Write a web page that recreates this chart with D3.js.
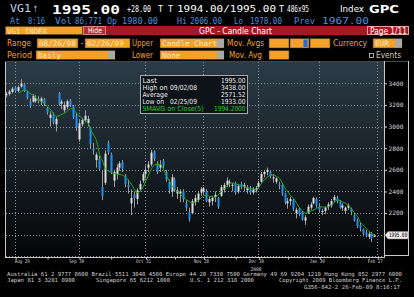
<!DOCTYPE html>
<html>
<head>
<meta charset="utf-8">
<script src="https://cdn.jsdelivr.net/npm/d3@7"></script>
<style>
  html, body { margin: 0; padding: 0; background: #000; overflow: hidden; }
  svg { display: block; }
</style>
</head>
<body>
<script>
// VG1 index future, daily candles 08/26/08 - 02/26/09
const dates = [
  "08/26/08","08/27/08","08/28/08","08/29/08",
  "09/01/08","09/02/08","09/03/08","09/04/08","09/05/08","09/08/08","09/09/08","09/10/08","09/11/08","09/12/08",
  "09/15/08","09/16/08","09/17/08","09/18/08","09/19/08","09/22/08","09/23/08","09/24/08","09/25/08","09/26/08",
  "09/29/08","09/30/08",
  "10/01/08","10/02/08","10/03/08","10/06/08","10/07/08","10/08/08","10/09/08","10/10/08","10/13/08","10/14/08",
  "10/15/08","10/16/08","10/17/08","10/20/08","10/21/08","10/22/08","10/23/08","10/24/08","10/27/08","10/28/08",
  "10/29/08","10/30/08","10/31/08",
  "11/03/08","11/04/08","11/05/08","11/06/08","11/07/08","11/10/08","11/11/08","11/12/08","11/13/08","11/14/08",
  "11/17/08","11/18/08","11/19/08","11/20/08","11/21/08","11/24/08","11/25/08","11/26/08","11/27/08","11/28/08",
  "12/01/08","12/02/08","12/03/08","12/04/08","12/05/08","12/08/08","12/09/08","12/10/08","12/11/08","12/12/08",
  "12/15/08","12/16/08","12/17/08","12/18/08","12/19/08","12/22/08","12/23/08","12/29/08","12/30/08",
  "01/02/09","01/05/09","01/06/09","01/07/09","01/08/09","01/09/09","01/12/09","01/13/09","01/14/09","01/15/09",
  "01/16/09","01/19/09","01/20/09","01/21/09","01/22/09","01/23/09","01/26/09","01/27/09","01/28/09","01/29/09",
  "01/30/09",
  "02/02/09","02/03/09","02/04/09","02/05/09","02/06/09","02/09/09","02/10/09","02/11/09","02/12/09","02/13/09",
  "02/16/09","02/17/09","02/18/09","02/19/09","02/20/09","02/23/09","02/24/09","02/25/09","02/26/09"
];

const open = [
  3290,3300,3320,3360,3330,3370,3390,3320,3230,3230,
  3235,3255,3230,3250,3170,3080,3110,3020,3310,3210,
  3150,3180,3240,3190,3100,2880,3020,3060,3030,2990,
  2800,2690,2700,2440,2480,2850,2740,2500,2560,2620,
  2670,2540,2460,2290,2370,2330,2420,2500,2560,2620,
  2650,2770,2660,2620,2680,2580,2490,2400,2510,2380,
  2380,2400,2290,2210,2200,2300,2320,2390,2400,2400,
  2300,2310,2350,2340,2360,2420,2460,2480,2450,2470,
  2400,2470,2440,2410,2420,2390,2410,2440,2490,2560,
  2580,2580,2520,2490,2460,2460,2380,2290,2310,2320,
  2200,2240,2210,2130,2200,2250,2290,2330,2260,2210,
  2220,2260,2270,2320,2340,2310,2250,2220,2250,2240,
  2180,2130,2090,2050,2020,1980,2010,1980
];
const high = [
  3320,3340,3365,3370,3380,3438,3405,3330,3260,3300,
  3290,3280,3275,3265,3180,3140,3130,3090,3320,3250,
  3230,3250,3255,3200,3130,3060,3080,3150,3100,3000,
  2850,2760,2730,2600,2780,2870,2760,2600,2650,2680,
  2690,2560,2510,2420,2400,2430,2500,2580,2640,2680,
  2785,2780,2680,2690,2700,2600,2510,2560,2530,2440,
  2420,2420,2320,2250,2330,2370,2400,2440,2440,2420,
  2350,2360,2400,2350,2460,2480,2530,2510,2480,2490,
  2470,2490,2480,2460,2450,2440,2450,2500,2580,2600,
  2620,2590,2560,2530,2490,2470,2390,2340,2350,2330,
  2250,2250,2220,2180,2280,2300,2350,2345,2285,2240,
  2260,2300,2330,2368,2360,2320,2290,2260,2290,2250,
  2190,2150,2110,2060,2045,2030,2025,2006
];
const low = [
  3270,3285,3305,3315,3320,3360,3320,3250,3170,3220,
  3220,3215,3200,3190,3110,3000,3020,2954,3190,3160,
  3130,3160,3180,3070,2960,2860,3000,3040,3000,2800,
  2740,2620,2590,2320,2460,2740,2560,2440,2510,2590,
  2580,2440,2380,2182,2250,2280,2400,2480,2520,2580,
  2630,2680,2560,2580,2610,2490,2380,2350,2400,2330,
  2300,2300,2220,2120,2190,2270,2300,2360,2370,2300,
  2260,2270,2300,2240,2350,2390,2440,2440,2400,2370,
  2380,2420,2400,2380,2370,2370,2390,2430,2480,2530,
  2550,2520,2480,2470,2420,2360,2280,2240,2270,2220,
  2150,2170,2130,2090,2190,2230,2280,2250,2210,2180,
  2190,2230,2250,2300,2290,2240,2220,2200,2230,2180,
  2120,2060,2030,1985,1975,1960,1933,1978
];
const close = [
  3300,3325,3350,3330,3365,3400,3335,3265,3190,3285,
  3260,3240,3260,3210,3130,3110,3040,3070,3210,3230,
  3200,3235,3200,3090,2990,3030,3060,3100,3070,2840,
  2780,2740,2610,2360,2750,2760,2580,2580,2620,2660,
  2610,2470,2440,2340,2340,2410,2470,2560,2600,2650,
  2760,2700,2580,2650,2640,2510,2420,2530,2420,2410,
  2400,2330,2250,2140,2310,2340,2380,2420,2430,2310,
  2330,2340,2370,2260,2440,2460,2500,2490,2460,2390,
  2450,2440,2460,2430,2390,2420,2430,2480,2560,2580,
  2600,2540,2530,2520,2450,2380,2300,2310,2330,2240,
  2230,2190,2140,2160,2260,2280,2340,2270,2230,2220,
  2250,2280,2310,2350,2310,2250,2270,2250,2270,2210,
  2130,2080,2060,2010,1990,2009,1967,1995
];
// 5 day simple moving average on close, as drawn (green line)
const sma5 = [
  null,null,null,null,
  3310,3325,3338,3330,3305,3290,
  3265,3245,3232,3215,3185,3160,3120,3095,3100,3115,
  3125,3145,3165,3160,3120,3100,3075,3050,3035,2965,
  2920,2860,2740,2680,2610,2590,2575,2565,2560,2556,
  2550,2530,2500,2465,2420,2388,2405,2440,2500,2560,
  2615,2645,2650,2648,2610,2545,2500,2450,2420,2400,
  2370,2345,2322,2305,2294,2300,2315,2340,2362,2365,
  2355,2348,2345,2370,2400,2425,2450,2470,2478,2470,
  2462,2455,2445,2435,2430,2425,2418,2440,2480,2510,
  2535,2550,2553,2540,2525,2480,2430,2395,2360,2335,
  2290,2250,2220,2200,2208,2220,2230,2245,2256,2256,
  2255,2256,2275,2300,2320,2315,2300,2290,2265,2235,
  2205,2170,2115,2090,2060,2030,2010,1994.2
];

const priceTicks = [2200, 2400, 2600, 2800, 3000, 3200, 3400];
const gridPrices = [1800, 2000, 2200, 2400, 2600, 2800, 3000, 3200, 3400];
const monthTicks = ["08/29/08", "09/30/08", "10/31/08", "11/28/08", "12/30/08", "01/30/09", "02/27/09"];
const monthLabels = ["Aug 29", "Sep 30", "Oct 31", "Nov 28", "Dec 30", "Jan 30", "Feb 27"];
const midTicks = ["09/15/08", "10/15/08", "11/14/08", "12/15/08", "01/15/09", "02/13/09"];

const legendNames = ["Last", "High on  09/02/08", "Average", "Low on  02/25/09", "SMAVG on Close(5)"];
const legendValues = ["1995.00", "3438.00", "2571.52", "1933.00", "1994.2000"];

const W = 414, H = 297;
const ORANGE = "#f4a12b", RED = "#a01b22";
const MONO = "'DejaVu Sans Mono', monospace", SANS = "'DejaVu Sans', sans-serif";

const svg = d3.select("body").append("svg").attr("width", W).attr("height", H);
svg.append("rect").attr("width", W).attr("height", H).attr("fill", "#000");

function label(x, y, s, o = {}) {
  const t = svg.append("text").attr("x", x).attr("y", y).text(s)
    .attr("font-family", o.family || SANS)
    .attr("font-size", o.size || 8)
    .attr("fill", o.fill || "#fff");
  if (o.weight) t.attr("font-weight", o.weight);
  if (o.len) t.attr("textLength", o.len).attr("lengthAdjust", "spacingAndGlyphs");
  if (o.anchor) t.attr("text-anchor", o.anchor);
  return t;
}

// ---- header lines
label(10, 12, "VG1", {size: 10, fill: "#b9d3ee", len: 21, family: MONO});
label(33, 12, "\u2191", {size: 9, fill: "#b9d3ee", len: 5});
label(52, 13.5, "1995.00", {size: 13, weight: "bold", len: 68, family: MONO});
label(127, 12, "+28.00", {size: 8, len: 24, family: MONO});
label(158, 12, "T", {size: 8.5, len: 5, family: MONO});
label(168, 12, "T", {size: 8.5, len: 5, family: MONO});
label(177, 12, "1994.00/1995.00", {size: 8.5, len: 99, family: MONO});
label(279, 12, "T", {size: 8.5, len: 5, family: MONO});
label(287, 12, "486x95", {size: 8.5, len: 22, family: MONO});
label(340, 12, "Index", {size: 9, len: 24});
label(369, 13, "GPC", {size: 11, weight: "bold", len: 30});

const blue2 = "#4a8fdc";
[["At", 10, 10], ["8:16", 28, 17], ["Vol", 55, 17], ["86,771", 75, 27], ["Op", 107, 10],
 ["1980.00", 122, 36], ["Hi", 177, 10], ["2006.00", 190, 32], ["Lo", 234, 9], ["1978.00", 250, 32],
 ["Prev", 294, 21], ["1967.00", 322, 47]]
  .forEach(([s, x, l]) => label(x, 23.5, s, {size: 9, fill: blue2, len: l, family: MONO}));

// ---- red title bar
svg.append("rect").attr("x", 5).attr("y", 26).attr("width", 404).attr("height", 9).attr("fill", RED);
svg.append("rect").attr("x", 5.5).attr("y", 26.5).attr("width", 77).attr("height", 8)
  .attr("fill", ORANGE).attr("stroke", "#6a4a10");
label(7, 33.5, "VG1 INDEX", {size: 7.5, fill: "#fbe6bf", len: 40, family: MONO});
svg.append("rect").attr("x", 83.5).attr("y", 26.5).attr("width", 22).attr("height", 8)
  .attr("fill", "#bd2b33").attr("stroke", "#e07a7a");
label(88, 33.3, "Hide", {size: 7.5, len: 14});
label(199, 33.5, "GPC - Candle Chart", {size: 8, len: 73});
svg.append("rect").attr("x", 367.5).attr("y", 26.5).attr("width", 41).attr("height", 8)
  .attr("fill", "none").attr("stroke", "#e6a0a0");
label(370, 33.5, "Page 1/11", {size: 8, len: 37});

// ---- option rows
function field(x, y, w, h, s, drop) {
  svg.append("rect").attr("x", x).attr("y", y).attr("width", w).attr("height", h)
    .attr("fill", ORANGE).attr("stroke", "#3a2a10").attr("stroke-width", 0.5);
  if (drop) svg.append("rect").attr("x", x + w - 7).attr("y", y + 0.5).attr("width", 7).attr("height", h - 1)
    .attr("fill", "#a9a9a9");
  if (s) label(x + 2, y + h - 2, s, {size: 7.5, fill: "#fde9c4", family: MONO, len: s.length * 4.6});
}
const r4 = 38.5, r5 = 50.5;
label(7, 46, "Range", {fill: ORANGE, len: 24});
field(37, r4, 41, 9.5, "08/26/08");
label(80.5, 46, "-", {fill: ORANGE});
field(85, r4, 45, 9.5, "02/26/09");
label(132, 46, "Upper", {fill: ORANGE, len: 21});
field(160, r4, 64, 9.5, "Candle Chart", true);
label(227, 46, "Mov. Avgs", {fill: ORANGE, len: 37});
field(269, r4, 20, 9.5, "");
field(290, r4, 19, 9.5, "");
svg.append("rect").attr("x", 303.5).attr("y", r4 + 1).attr("width", 4).attr("height", 7.5).attr("fill", "#2a6ad6");
field(310, r4, 20, 9.5, "");
label(333, 46, "Currency", {fill: ORANGE, len: 34});
field(373, r4, 29, 9.5, "EUR", true);

label(7, 58, "Period", {fill: ORANGE, len: 25});
field(36, r5, 79, 9, "Daily", true);
label(132, 58, "Lower", {fill: ORANGE, len: 21});
field(160, r5, 64, 9, "None", true);
label(229, 58, "Mov. Avg", {fill: ORANGE, len: 33});
field(269, r5, 20, 9, "");
svg.append("rect").attr("x", 369.5).attr("y", 53.5).attr("width", 4).attr("height", 4)
  .attr("fill", "none").attr("stroke", "#cfcfcf").attr("stroke-width", 0.8);
label(376, 58, "Events", {fill: "#d6c7a8", len: 25});

// ---- chart
const pL = 6, pR = 384, pT = 62, pB = 257.5;
const x = d3.scaleLinear().domain([-0.5, 130]).range([5, 383]);
const y = d3.scaleLinear().domain([2000, 3400]).range([234.7, 83.3]);
const idxOf = d => { const i = dates.indexOf(d); return i < 0 ? dates.length : i; };

const defs = svg.append("defs");
const grad = defs.append("linearGradient").attr("id", "bg").attr("x1", 0).attr("x2", 0).attr("y1", 0).attr("y2", 1);
[["0%", "#2c3b46"], ["45%", "#1a242b"], ["100%", "#040506"]]
  .forEach(([o, c]) => grad.append("stop").attr("offset", o).attr("stop-color", c));
defs.append("clipPath").attr("id", "clip").append("rect")
  .attr("x", pL).attr("y", pT).attr("width", pR - pL).attr("height", pB - pT);

svg.append("rect").attr("x", pL).attr("y", pT).attr("width", pR - pL).attr("height", pB - pT)
  .attr("fill", "url(#bg)");

const plot = svg.append("g").attr("clip-path", "url(#clip)");

// grid
plot.selectAll(".hg").data(gridPrices).join("line")
  .attr("x1", pL).attr("x2", pR)
  .attr("y1", d => Math.round(y(d)) + 0.5).attr("y2", d => Math.round(y(d)) + 0.5)
  .attr("stroke", "#8c9297").attr("stroke-dasharray", "1,2");
plot.selectAll(".vg").data(monthTicks.map(idxOf)).join("line")
  .attr("x1", d => Math.round(x(d)) + 0.5).attr("x2", d => Math.round(x(d)) + 0.5)
  .attr("y1", pT).attr("y2", pB)
  .attr("stroke", "#8c9297").attr("stroke-dasharray", "1,2");

// candles
const idx = d3.range(dates.length);
const cx = i => Math.round(x(i));
plot.append("g").selectAll("line").data(idx).join("line")
  .attr("x1", i => cx(i) + 0.5).attr("x2", i => cx(i) + 0.5)
  .attr("y1", i => y(high[i])).attr("y2", i => y(low[i]))
  .attr("stroke", "#9c9c9c").attr("stroke-width", 1);
plot.append("g").selectAll("rect").data(idx).join("rect")
  .attr("x", i => cx(i) - 0.5)
  .attr("width", 2)
  .attr("y", i => y(Math.max(open[i], close[i])))
  .attr("height", i => Math.max(1, Math.abs(y(open[i]) - y(close[i]))))
  .attr("fill", i => close[i] >= open[i] ? "#dedede" : "#1f8ff2");

// moving average
plot.append("path")
  .datum(idx.filter(i => sma5[i] != null))
  .attr("fill", "none").attr("stroke", "#21a521").attr("stroke-width", 1)
  .attr("d", d3.line().x(i => x(i) + 0.5).y(i => y(sma5[i])).curve(d3.curveMonotoneX));

// frame
const frame = "#c8c8c8";
svg.append("line").attr("x1", 5.5).attr("x2", 5.5).attr("y1", 61).attr("y2", 258).attr("stroke", frame);
svg.append("line").attr("x1", 5).attr("x2", 409).attr("y1", 61.5).attr("y2", 61.5).attr("stroke", "#444");
svg.append("line").attr("x1", 5).attr("x2", 385).attr("y1", 257.5).attr("y2", 257.5).attr("stroke", frame);
svg.append("line").attr("x1", 384.5).attr("x2", 384.5).attr("y1", 61).attr("y2", 258).attr("stroke", frame);
svg.append("line").attr("x1", 408.5).attr("x2", 408.5).attr("y1", 61).attr("y2", 256).attr("stroke", frame);
svg.append("line").attr("x1", 384).attr("x2", 409).attr("y1", 255.5).attr("y2", 255.5).attr("stroke", frame);

// y axis
const yAxis = svg.append("g").attr("transform", "translate(384.5,0)")
  .call(d3.axisRight(y).tickValues(priceTicks).tickSize(2.5).tickPadding(1.5).tickFormat(d3.format("d")));
yAxis.select(".domain").remove();
yAxis.selectAll(".tick line").attr("stroke", "#cfcfcf");
yAxis.selectAll(".tick text").attr("fill", "#d8d8d8").attr("font-family", MONO).attr("font-size", 6)
  .attr("textLength", 15).attr("lengthAdjust", "spacingAndGlyphs");

// last price tag
const yl = y(close[close.length - 1]);
svg.append("path")
  .attr("d", `M385,${yl} L388,${yl - 3.7} L408,${yl - 3.7} L408,${yl + 3.7} L388,${yl + 3.7} Z`)
  .attr("fill", "#ececec").attr("stroke", "#888").attr("stroke-width", 0.5);
label(389, yl + 2.2, d3.format(".2f")(close[close.length - 1]), {size: 6, fill: "#000", len: 18, family: MONO});

// x axis
const xAxis = svg.append("g").attr("transform", "translate(0.5,257.5)")
  .call(d3.axisBottom(x).tickValues(monthTicks.map(idxOf)).tickSize(2).tickPadding(0)
    .tickFormat((d, i) => monthLabels[i]));
xAxis.select(".domain").remove();
xAxis.selectAll(".tick line").attr("stroke", "#cfcfcf");
xAxis.selectAll(".tick text").attr("fill", "#d8d8d8").attr("font-family", MONO).attr("font-size", 5)
  .attr("textLength", 15).attr("lengthAdjust", "spacingAndGlyphs")
  .attr("dx", (d, i) => i === 0 ? 6 : -3);
const xMinor = svg.append("g").attr("transform", "translate(0.5,257.5)")
  .call(d3.axisBottom(x).tickValues(midTicks.map(idxOf)).tickSize(2).tickFormat(""));
xMinor.select(".domain").remove();
xMinor.selectAll(".tick line").attr("stroke", "#cfcfcf");
label(x(idxOf("12/30/08")) - 2.5, 270.5, "2008", {size: 5, fill: "#d8d8d8", len: 11, anchor: "middle", family: MONO});

// legend box
svg.append("rect").attr("x", 140.5).attr("y", 75.5).attr("width", 107).attr("height", 38)
  .attr("fill", "#0d1318").attr("stroke", "#a5a9ad");
legendNames.forEach((s, i) => {
  const c = i === 4 ? "#2ccc2c" : "#ececec";
  const by = 82.5 + i * 7;
  const parts = s.split("  ");
  label(142.5, by, parts[0], {size: 7, fill: c, family: SANS, len: parts[0].length * 3.6});
  if (parts[1]) label(170, by, parts[1], {size: 7, fill: c, family: SANS, len: 27});
  label(245.5, by, legendValues[i], {size: 7, fill: c, anchor: "end", family: SANS, len: legendValues[i].length * 3.5});
});

// footer
const foot = "#cfcfcf";
label(7, 275.5, "Australia 61 2 9777 8600 Brazil 5511 3048 4500 Europe 44 20 7330 7500 Germany 49 69 9204 1210 Hong Kong 852 2977 6000",
  {size: 5.6, fill: foot, len: 395, family: MONO});
label(7, 282, "Japan 81 3 3201 8900", {size: 5.6, fill: foot, len: 68, family: MONO});
label(96, 282, "Singapore 65 6212 1000", {size: 5.6, fill: foot, len: 74, family: MONO});
label(190, 282, "U.S. 1 212 318 2000", {size: 5.6, fill: foot, len: 64, family: MONO});
label(279, 282, "Copyright 2009 Bloomberg Finance L.P.", {size: 5.6, fill: foot, len: 123, family: MONO});
label(304, 288.5, "G356-842-2 26-Feb-09  8:16:17", {size: 5.6, fill: foot, len: 96, family: MONO});
</script>
</body>
</html>
